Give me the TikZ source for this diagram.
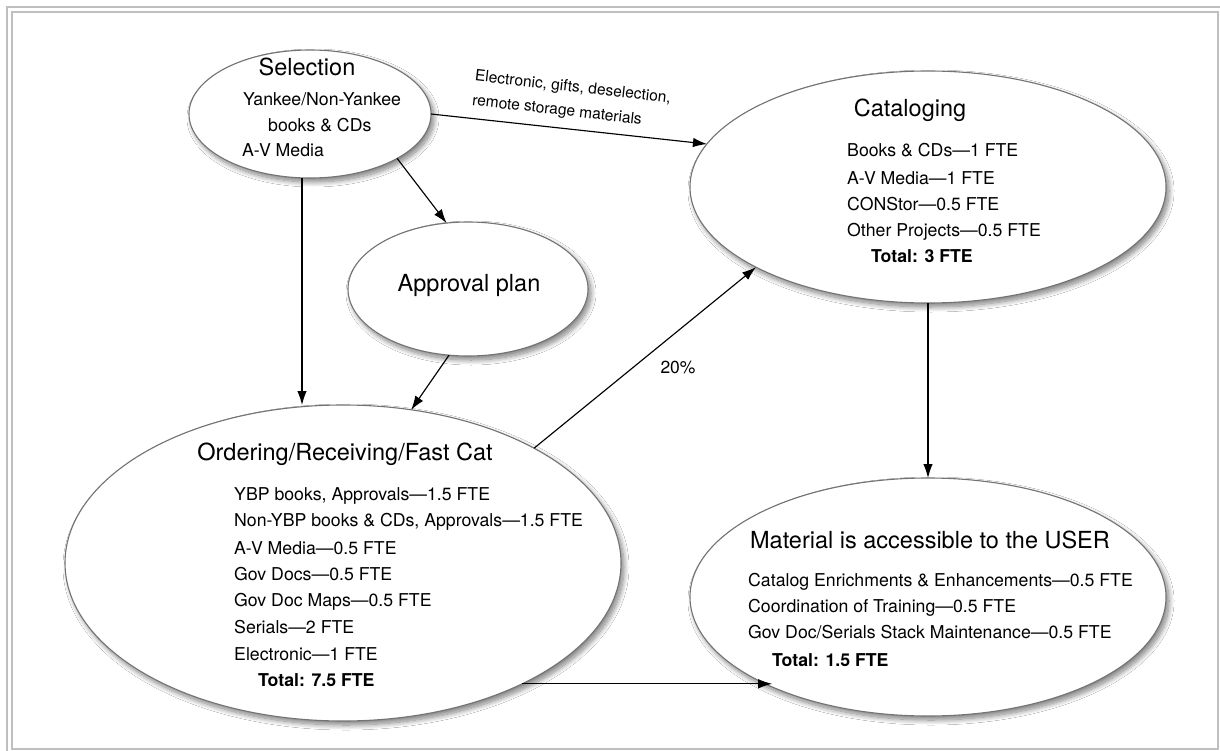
\documentclass[tikz,border=0pt]{standalone}
\usepackage{fontspec}
\setmainfont{TeX Gyre Heros}
\usetikzlibrary{shapes.geometric,arrows.meta,shadows.blur}

\begin{document}
\begin{tikzpicture}[x=1pt,y=-1pt,
  bubble/.style={ellipse, draw=black!55, line width=1.1pt, fill=white, inner sep=0pt, outer sep=0pt,
    blur shadow={shadow xshift=3pt, shadow yshift=-4pt, shadow blur radius=5pt, shadow blur steps=12, shadow opacity=50}},
  title/.style={font=\fontsize{23.5}{26}\selectfont, text height=0.718em, text depth=0pt, inner sep=0pt},
  item/.style={font=\fontsize{17.7}{20}\selectfont, text height=0.718em, text depth=0pt, inner sep=0pt, anchor=west},
  total/.style={item, font=\fontsize{17.7}{20}\selectfont\bfseries},
  flow/.style={-{Latex[length=14pt,width=9.5pt]}, line width=1.15pt},
  lbl/.style={font=\fontsize{15.5}{24.5}\selectfont, inner sep=0pt, align=left}
]
\useasboundingbox (0,0) rectangle (1220,751);
\fill[white] (0,0) rectangle (1220,751);
% frame
\draw[black!25, line width=2pt] (7,751) -- (7,7) -- (1220,7);
\draw[black!25, line width=2pt] (12,12) rectangle (1218,749);

% ellipses
\node[bubble, minimum width=242pt, minimum height=128pt] (sel) at (310,114) {};
\node[bubble, minimum width=240pt, minimum height=134pt] (app) at (468,289) {};
\node[bubble, minimum width=556pt, minimum height=316pt] (ord) at (343,563) {};
\node[bubble, minimum width=476pt, minimum height=232pt] (cat) at (928,187) {};
\node[bubble, minimum width=476pt, minimum height=238pt] (mat) at (928,597) {};

% connectors
\draw[flow] (sel.east) -- (cat.169.4);
\draw[flow] (sel.-27) -- (app.108);
\draw[flow] ([xshift=-8pt]sel.south) -- ([xshift=-8pt]sel.south |- ord.north);
\draw[flow] (app.254) -- (ord.66.4);
\draw[flow] (ord.31.2) -- (cat.205.8);
\draw[flow] (cat.south) -- (mat.north);
\draw[flow] (ord.-34.7) -- (ord.-34.7 -| mat.210.2);

% connector labels
\node[lbl, rotate=-6.5] (l1) at (571.5,100.1) {Electronic, gifts, deselection,\\remote storage materials};
\node[font=\fontsize{17.5}{20}\selectfont, text height=0.718em, text depth=0pt, inner sep=0pt] (pct) at (678,370) {20\%};

% Selection
\node[title] (selt) at (307,72) {Selection};
\node[item] (s1) at (243,102) {Yankee/Non-Yankee};
\node[item] (s2) at (268,128) {books \& CDs};
\node[item] (s3) at (242,153) {A-V Media};

% Approval
\node[title] (appt) at (469,288) {Approval plan};

% Cataloging
\node[title] (catt) at (910,113) {Cataloging};
\node[item] (c1) at (847,153) {Books \& CDs---1 FTE};
\node[item] (c2) at (847,181) {A-V Media---1 FTE};
\node[item] (c3) at (847,207) {CONStor---0.5 FTE};
\node[item] (c4) at (847,233) {Other Projects---0.5 FTE};
\node[total] (c5) at (871,259) {Total: 3 FTE};

% Ordering
\node[title] (ordt) at (345,457) {Ordering/Receiving/Fast Cat};
\node[item] (o1) at (234,497) {YBP books, Approvals---1.5 FTE};
\node[item] (o2) at (234,523) {Non-YBP books \& CDs, Approvals---1.5 FTE};
\node[item] (o3) at (234,551) {A-V Media---0.5 FTE};
\node[item] (o4) at (234,577) {Gov Docs---0.5 FTE};
\node[item] (o5) at (234,603) {Gov Doc Maps---0.5 FTE};
\node[item] (o6) at (234,630) {Serials---2 FTE};
\node[item] (o7) at (234,657) {Electronic---1 FTE};
\node[total] (o8) at (258,683) {Total: 7.5 FTE};

% Material
\node[title] (matt) at (930,545) {Material is accessible to the USER};
\node[item] (m1) at (748,583) {Catalog Enrichments \& Enhancements---0.5 FTE};
\node[item] (m2) at (748,609) {Coordination of Training---0.5 FTE};
\node[item] (m3) at (748,635) {Gov Doc/Serials Stack Maintenance---0.5 FTE};
\node[total] (m4) at (772,663) {Total: 1.5 FTE};
\end{tikzpicture}
\end{document}
